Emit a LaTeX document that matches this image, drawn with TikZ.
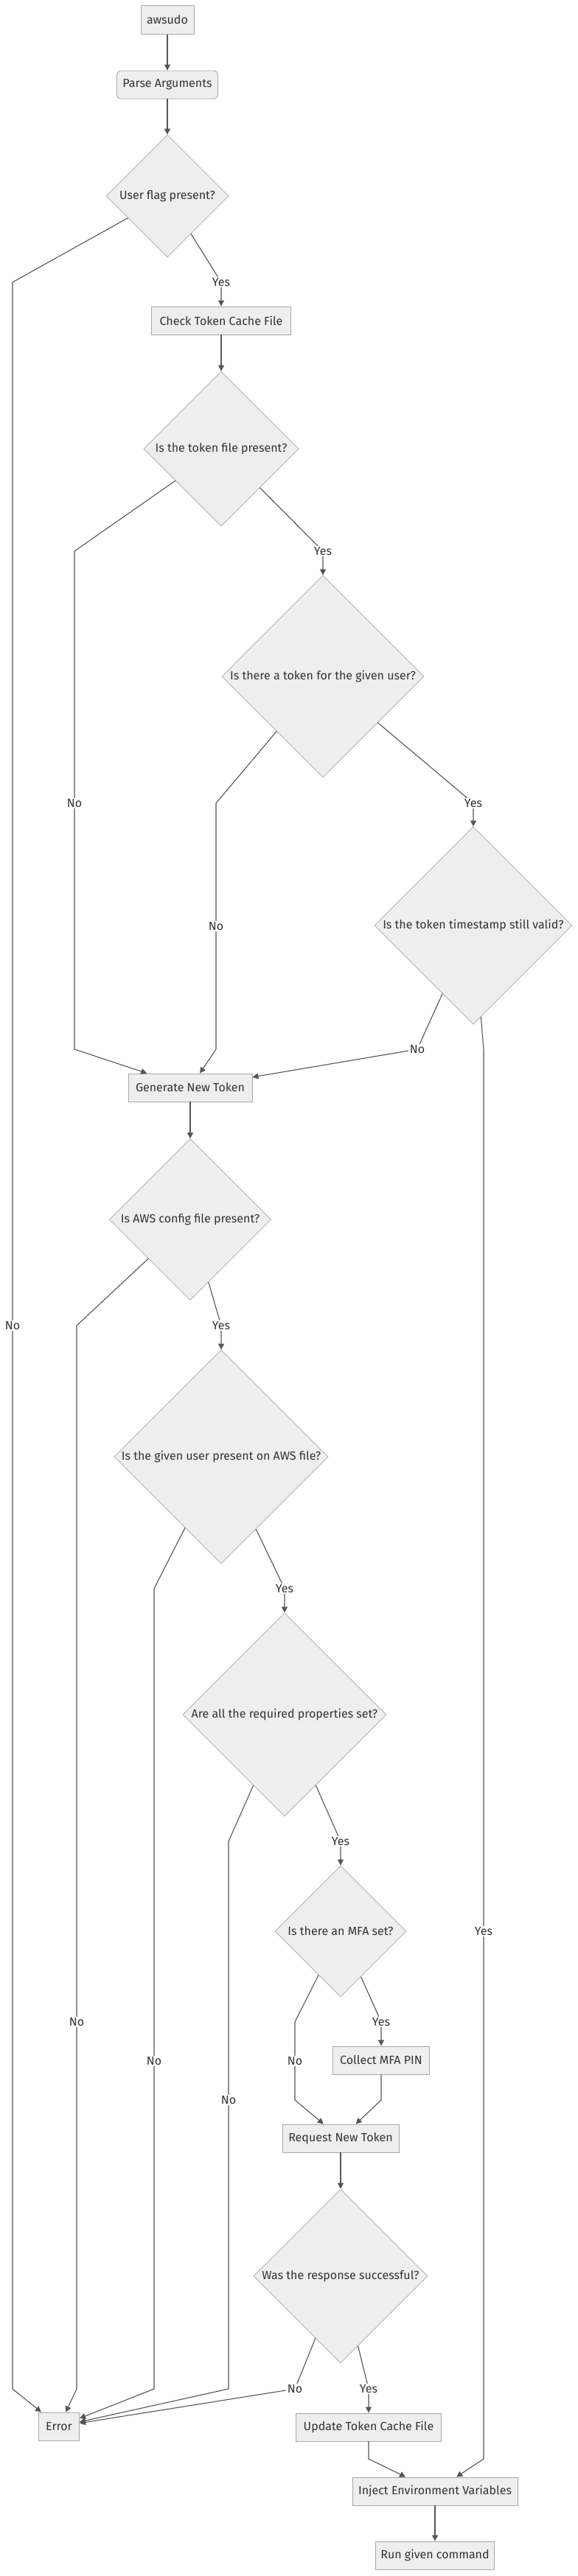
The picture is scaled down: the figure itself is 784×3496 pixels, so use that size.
\documentclass[tikz,border=0pt]{standalone}
\usepackage{fontspec}
\setmainfont{Fira Sans}
\usetikzlibrary{shapes.geometric,arrows.meta}
\definecolor{nfill}{HTML}{EEEEEE}
\definecolor{nstroke}{HTML}{A8A8A8}
\definecolor{ln}{HTML}{555555}
\definecolor{tx}{HTML}{333333}
\begin{document}
\begin{tikzpicture}[x=1pt,y=-1pt,
  txtfont/.style={font=\fontsize{16}{19}\selectfont},
  box/.style={draw=nstroke, fill=nfill, line width=0.9pt, text=tx, txtfont, inner sep=0pt, minimum height=38pt},
  dia/.style={diamond, draw=nstroke, fill=nfill, line width=0.7pt, text=tx, txtfont, inner sep=0pt, aspect=1},
  lbl/.style={fill=white, text=tx, txtfont, inner sep=1.5pt},
  edge/.style={draw=ln, line width=1.1pt, -{Triangle[length=8pt,width=8pt]}},
]
\useasboundingbox (0,0) rectangle (784,3496);
\fill[white] (0,0) rectangle (784,3496);

% nodes
\node[box, minimum width=72pt, minimum height=39pt] (aw) at (227,27) {awsudo};
\node[box, minimum width=137pt, rounded corners=5pt] (pa) at (227,115) {Parse Arguments};
\node[dia, minimum width=166pt, minimum height=166pt] (uf) at (227,266) {User flag present?};
\node[box, minimum width=189pt] (ctc) at (300,435) {Check Token Cache File};
\node[dia, minimum width=210pt, minimum height=210pt] (tf) at (300,609) {Is the token file present?};
\node[dia, minimum width=274pt, minimum height=274pt] (tu) at (438,918) {Is there a token for the given user?};
\node[dia, minimum width=268pt, minimum height=268pt] (ts) at (642,1256) {Is the token timestamp still valid?};
\node[box, minimum width=168pt] (gnt) at (258,1476) {Generate New Token};
\node[dia, minimum width=219pt, minimum height=219pt] (aws) at (258,1655) {Is AWS config file present?};
\node[dia, minimum width=290pt, minimum height=290pt] (gu) at (300,1977) {Is the given user present on AWS file?};
\node[dia, minimum width=276pt, minimum height=276pt] (rp) at (386,2327) {Are all the required properties set?};
\node[dia, minimum width=178pt, minimum height=178pt] (mfa) at (462,2621) {Is there an MFA set?};
\node[box, minimum width=131pt] (cmp) at (517,2796) {Collect MFA PIN};
\node[box, minimum width=158pt] (rnt) at (462,2902) {Request New Token};
\node[dia, minimum width=236pt, minimum height=236pt] (was) at (462,3089) {Was the response successful?};
\node[box, minimum width=55pt] (err) at (80,3293) {Error};
\node[box, minimum width=197pt] (utc) at (500,3294) {Update Token Cache File};
\node[box, minimum width=224pt] (inj) at (590,3381) {Inject Environment Variables};
\node[box, minimum width=161pt] (run) at (590,3468) {Run given command};

% edges
\draw[edge] (aw) -- (pa);
\draw[edge] (pa) -- (uf);
\draw[edge] (uf) -- (17,383) -- (17,3242) -- (err);
\draw[edge] (uf) -- (300,383) -- (ctc);
\draw[edge] (ctc) -- (tf);
\draw[edge] (tf) -- (101,748) -- (101,1424) -- (gnt);
\draw[edge] (tf) -- (438,748) -- (tu);
\draw[edge] (tu) -- (293,1090) -- (293,1424) -- (gnt);
\draw[edge] (tu) -- (642,1090) -- (ts);
\draw[edge] (ts) -- (566,1424) -- (gnt);
\draw[edge] (ts) -- (656,1424) -- (656,3337) -- (inj);
\draw[edge] (gnt) -- (aws);
\draw[edge] (aws) -- (104,1799) -- (104,3242) -- (err);
\draw[edge] (aws) -- (300,1799) -- (gu);
\draw[edge] (gu) -- (209,2156) -- (209,3242) -- (err);
\draw[edge] (gu) -- (386,2156) -- (rp);
\draw[edge] (rp) -- (310,2499) -- (310,3242) -- (err);
\draw[edge] (rp) -- (462,2499) -- (mfa);
\draw[edge] (mfa) -- (400,2744) -- (400,2850) -- (rnt);
\draw[edge] (mfa) -- (517,2744) -- (cmp);
\draw[edge] (cmp) -- (517,2850) -- (rnt);
\draw[edge] (rnt) -- (was);
\draw[edge] (was) -- (400,3242) -- (err);
\draw[edge] (was) -- (500,3242) -- (utc);
\draw[edge] (utc) -- (500,3337) -- (inj);
\draw[edge] (inj) -- (run);

% edge labels
\node[lbl] (l1) at (17,1799) {No};
\node[lbl] (l2) at (300,383) {Yes};
\node[lbl] (l3) at (101,1090) {No};
\node[lbl] (l4) at (438,748) {Yes};
\node[lbl] (l5) at (293,1257) {No};
\node[lbl] (l6) at (642,1090) {Yes};
\node[lbl] (l7) at (566,1424) {No};
\node[lbl] (l8) at (656,2621) {Yes};
\node[lbl] (l9) at (104,2744) {No};
\node[lbl] (l10) at (300,1799) {Yes};
\node[lbl] (l11) at (209,2797) {No};
\node[lbl] (l12) at (386,2156) {Yes};
\node[lbl] (l13) at (310,2850) {No};
\node[lbl] (l14) at (462,2499) {Yes};
\node[lbl] (l15) at (400,2797) {No};
\node[lbl] (l16) at (517,2744) {Yes};
\node[lbl] (l17) at (400,3242) {No};
\node[lbl] (l18) at (500,3242) {Yes};
\end{tikzpicture}
\end{document}
